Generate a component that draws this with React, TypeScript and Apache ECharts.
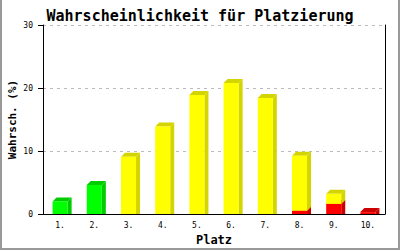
import React, { useEffect, useRef } from "react";
import * as echarts from "echarts";

const categories = ["1.", "2.", "3.", "4.", "5.", "6.", "7.", "8.", "9.", "10."];
const greenValues = [2.0, 4.6, 0, 0, 0, 0, 0, 0, 0, 0];
const redValues = [0, 0, 0, 0, 0, 0, 0, 0.5, 1.6, 0.3];
const yellowValues = [0, 0, 9.1, 13.9, 18.9, 20.8, 18.4, 8.75, 1.6, 0];
const yTicks = [0, 10, 20, 30];

const FONT = "DejaVu Sans Mono";

function makeData(values: number[], bases: number[]) {
  const out: number[][] = [];
  values.forEach((v, i) => {
    if (v > 0) out.push([i, bases[i], bases[i] + v]);
  });
  return out;
}

function render3D(front: string, dark: string) {
  return (params: any, api: any) => {
    const idx = api.value(0);
    const base = api.value(1);
    const top = api.value(2);
    const pb = api.coord([idx, base]);
    const pt = api.coord([idx, top]);
    const band = api.size([1, 0])[0];
    const w = band * 0.44;
    const d = 4;
    const x0 = pb[0] - w / 2;
    const x1 = pb[0] + w / 2;
    const yb = pb[1];
    const yt = pt[1];
    const ybSide = base === 0 ? yb : yb - d;
    return {
      type: "group",
      children: [
        {
          type: "polygon",
          shape: { points: [[x1, yt], [x1 + d, yt - d], [x1 + d, ybSide], [x1, yb]] },
          style: { fill: dark },
        },
        {
          type: "polygon",
          shape: { points: [[x0, yt], [x0 + d, yt - d], [x1 + d, yt - d], [x1, yt]] },
          style: { fill: dark },
        },
        {
          type: "rect",
          shape: { x: x0, y: yt, width: w, height: yb - yt },
          style: { fill: front },
        },
      ],
    };
  };
}

export default function App() {
  const ref = useRef<HTMLDivElement>(null);
  useEffect(() => {
    document.body.style.margin = "0";
    const chart = echarts.init(ref.current!, null, { renderer: "svg" });
    const zeros = categories.map(() => 0);
    chart.setOption({
      animation: false,
      backgroundColor: "#ffffff",
      title: {
        text: "Wahrscheinlichkeit für Platzierung",
        left: "center",
        top: 3,
        textStyle: { fontFamily: FONT, fontSize: 15, fontWeight: "bold", color: "#000" },
      },
      grid: { left: 43, right: 15, top: 25, bottom: 36, containLabel: false, outerBoundsMode: "none" },
      xAxis: {
        type: "category",
        data: categories,
        name: "Platz",
        nameLocation: "middle",
        nameGap: 20,
        nameMoveOverlap: false,
        nameTextStyle: { fontFamily: FONT, fontSize: 12, fontWeight: "bold", color: "#000" },
        axisLine: { lineStyle: { color: "#000", width: 1 } },
        axisTick: { show: false },
        axisLabel: { fontFamily: FONT, fontSize: 8, color: "#000", margin: 7 },
      },
      yAxis: [
        {
          type: "value",
          min: yTicks[0],
          max: yTicks[yTicks.length - 1],
          interval: 10,
          name: "Wahrsch. (%)",
          nameLocation: "middle",
          nameGap: 25,
          nameMoveOverlap: false,
          nameTextStyle: { fontFamily: FONT, fontSize: 11, fontWeight: "bold", color: "#000" },
          axisLine: { show: true, lineStyle: { color: "#000", width: 1 } },
          axisTick: { show: true, length: 5, lineStyle: { color: "#000" } },
          axisLabel: { fontFamily: FONT, fontSize: 8, color: "#000", margin: 10 },
          splitLine: { show: true, lineStyle: { color: "#bbbbbb", type: [3, 4] } },
        },
        {
          type: "value",
          position: "right",
          min: 0,
          max: 30,
          interval: 10,
          axisLine: { show: true, lineStyle: { color: "#000", width: 1 } },
          axisTick: { show: false },
          axisLabel: { show: false },
          splitLine: { show: false },
        },
      ],
      series: [
        {
          type: "custom",
          renderItem: render3D("#00ff00", "#00cc00"),
          data: makeData(greenValues, zeros),
          encode: { x: 0, y: [1, 2] },
          clip: false,
        },
        {
          type: "custom",
          renderItem: render3D("#ff0000", "#cc0000"),
          data: makeData(redValues, zeros),
          encode: { x: 0, y: [1, 2] },
          clip: false,
        },
        {
          type: "custom",
          renderItem: render3D("#ffff00", "#d4d400"),
          data: makeData(yellowValues, redValues),
          encode: { x: 0, y: [1, 2] },
          clip: false,
        },
      ],
      graphic: [
        { type: "rect", shape: { x: 0, y: 0, width: 2, height: 250 }, style: { fill: "#999999" } },
        { type: "rect", shape: { x: 398, y: 0, width: 2, height: 250 }, style: { fill: "#999999" } },
        { type: "rect", shape: { x: 0, y: 248, width: 400, height: 2 }, style: { fill: "#999999" } },
      ],
    });
    return () => chart.dispose();
  }, []);
  return <div ref={ref} style={{ width: 400, height: 250 }} />;
}
